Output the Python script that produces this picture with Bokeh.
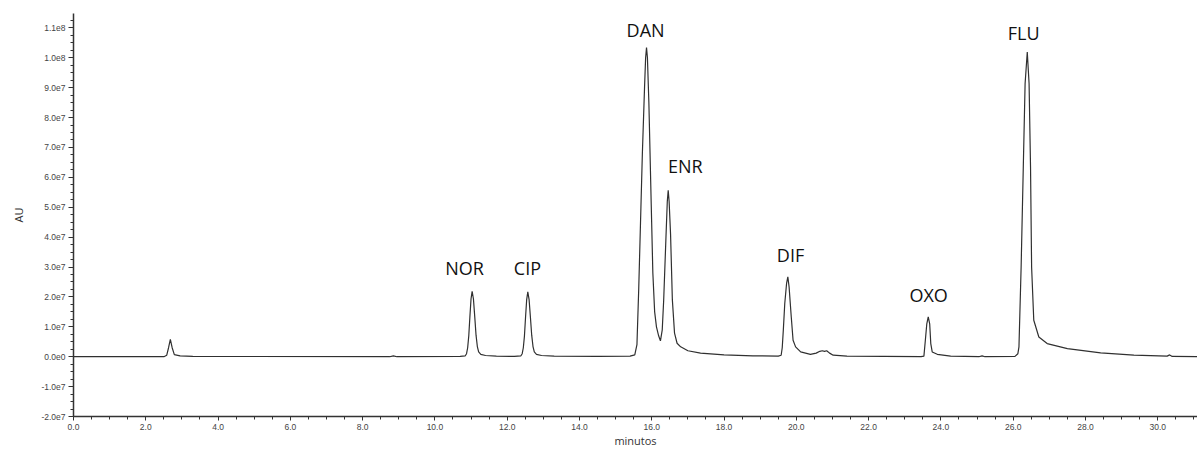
from bokeh.plotting import figure
from bokeh.models import (Range1d, SingleIntervalTicker, NumeralTickFormatter,
                          CustomJSTickFormatter, ColumnDataSource)
from bokeh.core.properties import value
from bokeh.embed import file_html
from bokeh.resources import INLINE

# ---- data ----
time_min = [0.00, 2.50, 2.58, 2.63, 2.68, 2.73, 2.79, 2.95, 3.30, 8.75, 8.85, 8.95, 10.70,
            10.84, 10.875, 10.906, 10.937, 10.968, 10.999, 11.03, 11.066, 11.102, 11.138,
            11.174, 11.21, 11.27, 11.40, 11.70, 12.20,
            12.38, 12.415, 12.446, 12.477, 12.508, 12.539, 12.57, 12.606, 12.642, 12.678,
            12.714, 12.75, 12.81, 12.95, 13.30, 14.50, 15.40,
            15.53, 15.59, 15.64, 15.70, 15.74, 15.80, 15.83, 15.855, 15.88, 15.92, 15.985,
            16.03, 16.08, 16.13, 16.19, 16.24,
            16.29, 16.33, 16.39, 16.43, 16.455, 16.48, 16.52, 16.57, 16.63, 16.70, 16.80,
            17.00, 17.35, 18.00, 18.80, 19.50,
            19.58, 19.61, 19.64, 19.68, 19.73, 19.765, 19.80, 19.86, 19.91, 19.98, 20.12,
            20.39, 20.55, 20.65, 20.72, 20.78, 20.84, 20.92, 21.02, 21.40, 23.45,
            23.53, 23.57, 23.61, 23.65, 23.69, 23.72, 23.76, 23.90, 24.27, 25.05, 25.14,
            25.22, 26.05,
            26.13, 26.16, 26.22, 26.28, 26.33, 26.39, 26.44, 26.48, 26.51, 26.57, 26.71,
            26.94, 27.50, 28.42, 29.34, 30.26, 30.33, 30.40, 31.10]
au_e7 = [0.00, 0.00, 0.05, 0.30, 0.58, 0.30, 0.07, 0.03, 0.01, 0.00, 0.03, 0.00, 0.01,
         0.03, 0.10, 0.30, 0.70, 1.34, 1.93, 2.19, 1.93, 1.34, 0.72,
         0.34, 0.16, 0.08, 0.04, 0.02, 0.01,
         0.03, 0.10, 0.30, 0.69, 1.33, 1.91, 2.17, 1.91, 1.33, 0.72,
         0.34, 0.16, 0.08, 0.04, 0.02, 0.01, 0.02,
         0.06, 0.40, 2.30, 5.00, 6.80, 9.00, 10.00, 10.34, 10.00, 8.50, 5.10,
         2.80, 1.50, 1.00, 0.70, 0.53,
         0.90, 1.90, 3.90, 5.20, 5.57, 5.20, 4.10, 1.90, 0.79, 0.45, 0.33,
         0.20, 0.12, 0.06, 0.03, 0.02,
         0.05, 0.30, 0.89, 1.78, 2.45, 2.67, 2.33, 1.33, 0.55, 0.33, 0.16,
         0.08, 0.12, 0.18, 0.20, 0.18, 0.20, 0.12, 0.05, 0.02, 0.00,
         0.02, 0.55, 1.10, 1.33, 1.10, 0.44, 0.16, 0.08, 0.02, 0.00, 0.03,
         0.00, 0.01,
         0.10, 0.33, 3.00, 6.35, 9.14, 10.19, 9.14, 6.35, 3.00, 1.22, 0.66,
         0.44, 0.27, 0.13, 0.05, 0.02, 0.06, 0.01, 0.00]

peak_names = ["NOR", "CIP", "DAN", "ENR", "DIF", "OXO", "FLU"]
label_time = [10.82, 12.56, 15.83, 16.93, 19.84, 23.66, 26.29]
label_au_e7 = [2.98, 2.98, 10.93, 6.39, 3.39, 2.05, 10.83]

x_ticks_interval = 2.0
y_ticks_interval = 1e7

au = [v * 1e7 for v in au_e7]
label_au = [v * 1e7 for v in label_au_e7]

p = figure(width=1197, height=451, output_backend="svg", toolbar_location=None,
           x_range=Range1d(0, 31.1), y_range=Range1d(-2.0e7, 11.48e7),
           min_border_left=73, min_border_right=0, min_border_top=13, min_border_bottom=35)
p.outline_line_color = None
p.xgrid.visible = False
p.ygrid.visible = False
p.background_fill_color = "white"
p.border_fill_color = "white"

p.line(time_min, au, line_color="#303030", line_width=1.2)

src = ColumnDataSource(dict(x=label_time, y=label_au, t=peak_names))
p.text(x="x", y="y", text="t", source=src, text_align="center", text_baseline="alphabetic",
       text_font=value("Open Sans"), text_font_size="18px", text_color="#111111")

# axes
for ax in (p.xaxis[0], p.yaxis[0]):
    ax.axis_line_color = "#333333"
    ax.axis_line_width = 1.5
    ax.major_tick_line_color = "#333333"
    ax.minor_tick_line_color = "#333333"
    ax.major_label_text_font = "Liberation Sans"
    ax.major_label_text_font_size = "8.5px"
    ax.major_label_text_color = "#444444"
    ax.axis_label_text_font = "Open Sans"
    ax.axis_label_text_font_size = "11px"
    ax.axis_label_text_font_style = "normal"
    ax.axis_label_text_color = "#333333"
    ax.major_tick_in = 0
    ax.minor_tick_in = 0

p.xaxis.ticker = SingleIntervalTicker(interval=x_ticks_interval, num_minor_ticks=4)
p.xaxis.formatter = NumeralTickFormatter(format="0.0")
p.xaxis.axis_label = "minutos"
p.xaxis.major_tick_out = 4
p.xaxis.minor_tick_out = 3
p.xaxis.major_label_standoff = 3
p.xaxis.axis_label_standoff = 0

p.yaxis.ticker = SingleIntervalTicker(interval=y_ticks_interval, num_minor_ticks=4)
p.yaxis.formatter = CustomJSTickFormatter(code="return tick.toExponential(1).replace('+','');")
p.yaxis.axis_label = "AU"
p.yaxis.major_tick_out = 5
p.yaxis.minor_tick_out = 3
p.yaxis.major_label_standoff = 3
p.yaxis.axis_label_standoff = 12

open("out.html", "w").write(file_html(p, INLINE))
